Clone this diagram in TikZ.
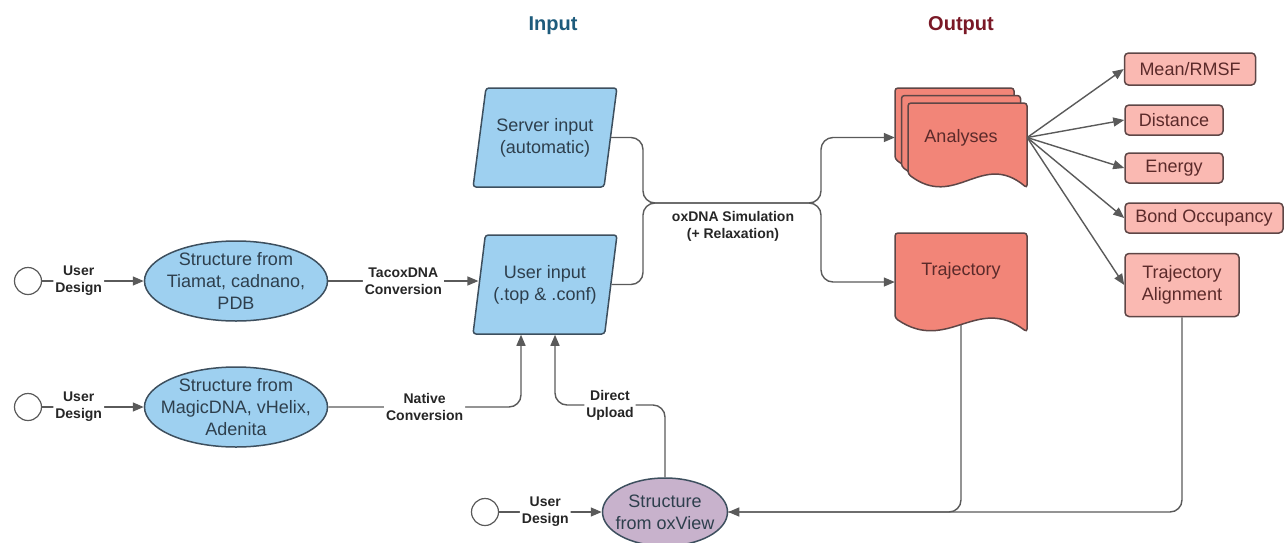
\documentclass[tikz,border=0pt]{standalone}
\usepackage{fontspec}
\setmainfont{Liberation Sans}
\usetikzlibrary{positioning, calc, arrows.meta, shapes.geometric}

\definecolor{inblue}{HTML}{9ED0F0}
\definecolor{inedge}{HTML}{3D4F5E}
\definecolor{oxpurple}{HTML}{C8B2CC}
\definecolor{docred}{HTML}{F28578}
\definecolor{boxred}{HTML}{FAB9B2}
\definecolor{rededge}{HTML}{5E4646}
\definecolor{linegray}{HTML}{5A5A5A}
\definecolor{intitle}{HTML}{1D5B7C}
\definecolor{outtitle}{HTML}{7A1826}
\definecolor{bluetext}{HTML}{2E3F4D}
\definecolor{redtext}{HTML}{5B2A2A}

% document shape: left, top, right, bottom (pixel units)
\newcommand{\docshape}[4]{%
  \filldraw[docfill] ({#1},{(#4)-14}) -- ({#1},{#2}) -- ({#3},{#2}) -- ({#3},{#4})
    .. controls ({(#1)+0.62*((#3)-(#1))},{(#4)-38}) and ({(#1)+0.4*((#3)-(#1))},{(#4)+22}) .. cycle;}

\begin{document}
\begin{tikzpicture}[
  x=1pt, y=-1pt,
  >={Triangle[length=11pt, width=9pt]},
  conn/.style    = {draw=linegray, line width=1.4pt, rounded corners=12pt},
  lbl/.style     = {font=\fontsize{14}{17}\selectfont\bfseries, text=black!85, fill=white, inner sep=2pt, align=center},
  start/.style   = {circle, draw=linegray, line width=1.2pt, fill=white, minimum size=27pt, inner sep=0pt},
  srcell/.style  = {ellipse, draw=inedge, fill=inblue, line width=1.5pt, minimum width=183pt, minimum height=80pt, inner sep=0pt},
  celltext/.style= {align=center, font=\fontsize{18}{22}\selectfont, text=bluetext, inner sep=0pt},
  para/.style    = {trapezium, trapezium left angle=76, trapezium right angle=104, trapezium stretches=true,
                    draw=inedge, fill=inblue, line width=1.5pt, rounded corners=3pt,
                    minimum width=144pt, minimum height=99pt, align=center,
                    font=\fontsize{18}{22}\selectfont, text=bluetext},
  docfill/.style = {draw=rededge, fill=docred, line width=1.5pt, rounded corners=3pt},
  doctext/.style = {font=\fontsize{18}{22}\selectfont, text=redtext, minimum width=132pt},
  anabox/.style  = {rectangle, rounded corners=4pt, draw=rededge, fill=boxred, line width=1.5pt,
                    minimum height=30pt, align=center, font=\fontsize{18}{22}\selectfont, text=redtext},
  title/.style   = {font=\fontsize{20}{24}\selectfont\bfseries},
]
  \useasboundingbox (0,0) rectangle (1286,542);

  % titles
  \node[title, text=intitle]  (intitle)  at (553,26) {Input};
  \node[title, text=outtitle] (outtitle) at (961,26) {Output};

  % design sources
  \node[start]  (u1)       at (28,281) {};
  \node[srcell] (tiamat)   at (236,281) {};
  \node[celltext] (tiamat-t) at (tiamat) {Structure from\\Tiamat, cadnano,\\PDB};
  \node[start]  (u2)       at (28,407) {};
  \node[srcell] (magic)    at (236,407) {};
  \node[celltext] (magic-t) at (magic) {Structure from\\MagicDNA, vHelix,\\Adenita};
  \node[start]  (u3)       at (485,512) {};
  \node[srcell, fill=oxpurple, minimum width=125pt, minimum height=68pt] (ox) at (665,512) {};
  \node[celltext] (ox-t) at (ox) {Structure\\from oxView};

  % inputs
  \node[para] (server) at (545,137.5) {Server input\\(automatic)};
  \node[para] (user)   at (545,284.5) {User input\\(.top \& .conf)};

  % outputs
  \foreach \k in {2,1,0}
    \docshape{908-6.5*\k}{103-7.5*\k}{1027-6.5*\k}{188-7.5*\k};
  \docshape{895}{233}{1027}{332}
  \node[doctext, minimum height=99pt] (ana)  at (961,137.5) {Analyses};
  \node[doctext, minimum height=76pt] (traj) at (961,271) {Trajectory};

  \node[anabox, minimum width=131pt, minimum height=32pt] (mean)   at (1190,69)  {Mean/RMSF};
  \node[anabox, minimum width=98pt]                       (dist)   at (1174,120) {Distance};
  \node[anabox, minimum width=98pt]                       (energy) at (1174,168) {Energy};
  \node[anabox, minimum width=158pt]                      (bond)   at (1204,218) {Bond Occupancy};
  \node[anabox, minimum width=114pt, minimum height=63pt] (talign) at (1182,285) {Trajectory\\Alignment};

  % connectors
  \draw[conn, ->] (u1) -- node[lbl, pos=0.36]{User\\Design} (tiamat);
  \draw[conn, ->] (u2) -- node[lbl, pos=0.36]{User\\Design} (magic);
  \draw[conn, ->] (u3) -- node[lbl, pos=0.45]{User\\Design} (ox);

  \draw[conn, ->] (tiamat.east) -- node[lbl]{TacoxDNA\\Conversion} (tiamat.east -| user.west);

  \coordinate (natbend) at (521,407);
  \draw[conn, ->] (magic.east) -- node[lbl]{Native\\Conversion} (natbend) -- (natbend |- user.south);

  \coordinate (upbend) at (555,405);
  \draw[conn, ->] (ox.north) |- node[lbl, pos=0.75]{Direct\\Upload} (upbend) -- (upbend |- user.south);

  \coordinate (simL) at (643,203);
  \coordinate (simR) at (821,203);
  \draw[conn, ->] (server.east) -| (simL) -- (simR) |- (ana.west);
  \draw[conn, ->] (user.east) -| (simL) -- (simR) |- ($(traj.west)+(0,11)$);
  \node[lbl, fill=none] (simlbl) at (733,226) {oxDNA Simulation\\(+ Relaxation)};

  \foreach \b in {mean, dist, energy, bond, talign}
    \draw[conn, ->] (ana.east) -- (\b.west);

  \coordinate (trajbot) at (961,325);
  \draw[conn] (trajbot) |- (ox.east);
  \draw[conn, ->] (talign.south) |- (ox.east);
\end{tikzpicture}
\end{document}
